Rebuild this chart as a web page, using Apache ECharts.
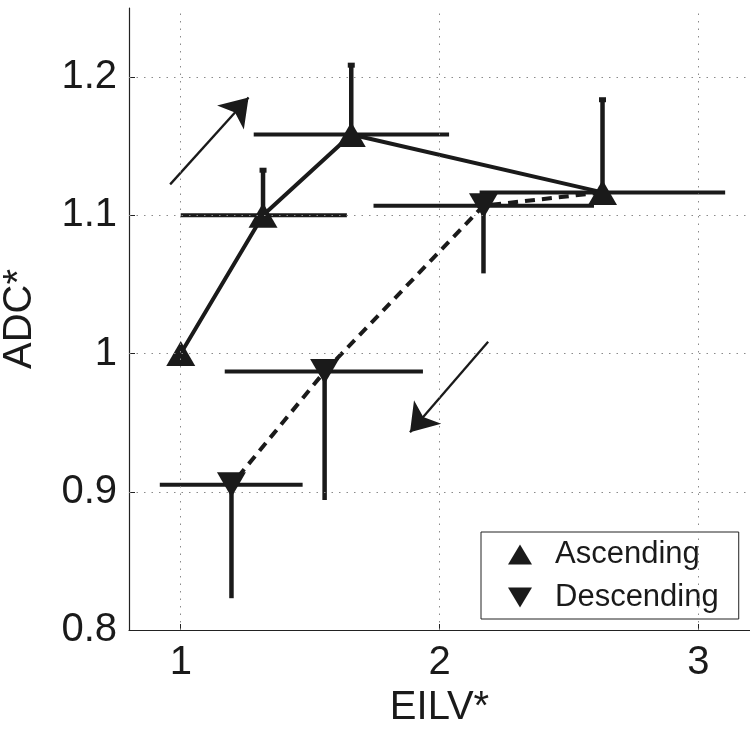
<!DOCTYPE html>
<html>
<head>
<meta charset="utf-8">
<script src="https://cdn.jsdelivr.net/npm/echarts@6/dist/echarts.min.js"></script>
<style>
html,body{margin:0;padding:0;background:#fff;}
#chart{width:750px;height:733px;}
</style>
</head>
<body>
<div id="chart"></div>
<script>
// ---- data ----
const xTicks = [1, 2, 3];
const xTickLabels = ['1', '2', '3'];
const yTicks = [0.8, 0.9, 1.0, 1.1, 1.2];
const yTickLabels = ['0.8', '0.9', '1', '1.1', '1.2'];

const ascEILV   = [1.0, 1.318, 1.659, 2.63];
const ascADC    = [1.0, 1.100, 1.1585, 1.1166];
const ascEILVlo = [null, 1.0, 1.282, 2.155];
const ascEILVhi = [null, 1.642, 2.037, 3.104];
const ascADChi  = [null, 1.133, 1.209, 1.184];

const descEILV   = [2.63, 2.170, 1.556, 1.196];
const descADC    = [1.1166, 1.107, 0.987, 0.905];
const descEILVlo = [null, 1.745, 1.170, 0.919];
const descEILVhi = [null, 2.597, 1.936, 1.471];
const descADClo  = [null, 1.058, 0.894, 0.823];

const arrowUp   = [[0.959, 1.1224], [1.262, 1.1853]];
const arrowDown = [[2.188, 1.0085], [1.886, 0.943]];

const INK = '#1a1a1a';
const FONT = 'Liberation Sans';

function pairs(xs, ys) { return xs.map((x, i) => [x, ys[i]]); }

const ascErr = [];
ascEILV.forEach((x, i) => {
  if (ascEILVlo[i] != null) ascErr.push([x, ascADC[i], ascEILVlo[i], ascEILVhi[i], ascADChi[i], 1]);
});
const descErr = [];
descEILV.forEach((x, i) => {
  if (descEILVlo[i] != null) descErr.push([x, descADC[i], descEILVlo[i], descEILVhi[i], descADClo[i], 0]);
});

function renderErr(params, api) {
  const x = api.value(0), y = api.value(1);
  const xlo = api.value(2), xhi = api.value(3), yv = api.value(4), cap = api.value(5);
  const c = api.coord([x, y]);
  const l = api.coord([xlo, y]);
  const r = api.coord([xhi, y]);
  const v = api.coord([x, yv]);
  const children = [
    { type: 'line', shape: { x1: l[0], y1: l[1], x2: r[0], y2: r[1] }, style: { stroke: INK, lineWidth: 4 } },
    { type: 'line', shape: { x1: c[0], y1: c[1], x2: v[0], y2: v[1] }, style: { stroke: INK, lineWidth: 4.5 } }
  ];
  if (cap) {
    children.push({ type: 'rect', shape: { x: v[0] - 3.5, y: v[1] - 2, width: 7, height: 5 }, style: { fill: INK } });
  }
  return { type: 'group', children: children };
}

const gridLines = [];
xTicks.forEach(v => gridLines.push({ xAxis: v }));
yTicks.filter(v => v > yTicks[0]).forEach(v => gridLines.push({ yAxis: v }));

const chart = echarts.init(document.getElementById('chart'));
chart.setOption({
  animation: false,
  backgroundColor: '#fff',
  textStyle: { fontFamily: FONT, color: INK },
  grid: { left: 129, right: 0, top: 8, bottom: 103, containLabel: false, outerBoundsMode: 'none' },
  legend: {
    orient: 'vertical',
    left: 481, top: 532,
    padding: [7, 20, 6, 27],
    itemWidth: 24, itemHeight: 20, itemGap: 12,
    symbolKeepAspect: false,
    borderColor: '#222', borderWidth: 1, backgroundColor: '#fff',
    textStyle: { fontFamily: FONT, fontSize: 31, color: INK, padding: [0, 0, 0, 18] },
    data: [
      { name: 'Ascending', icon: 'path://M5,0 L10,9 L0,9 Z' },
      { name: 'Descending', icon: 'path://M0,0 L10,0 L5,9 Z' }
    ]
  },
  xAxis: {
    type: 'value', min: 0.8, max: 3.2,
    name: 'EILV*', nameLocation: 'middle', nameGap: 52,
    nameTextStyle: { fontFamily: FONT, fontSize: 40, color: INK },
    axisLine: { show: true, onZero: false, lineStyle: { color: '#222', width: 1.2 } },
    axisTick: { show: true, inside: true, length: 6, customValues: xTicks, lineStyle: { color: '#222', width: 1 } },
    axisLabel: { customValues: xTicks, margin: 13, fontFamily: FONT, fontSize: 40, color: INK,
      formatter: v => xTickLabels[xTicks.findIndex(t => Math.abs(t - v) < 1e-9)] },
    splitLine: { show: false }
  },
  yAxis: {
    type: 'value', min: 0.8, max: 1.25,
    name: 'ADC*', nameLocation: 'middle', nameGap: 89, nameRotate: 90,
    nameTextStyle: { fontFamily: FONT, fontSize: 40, color: INK },
    axisLine: { show: true, onZero: false, lineStyle: { color: '#222', width: 1.2 } },
    axisTick: { show: true, inside: true, length: 6, customValues: yTicks, lineStyle: { color: '#222', width: 1 } },
    axisLabel: { customValues: yTicks, margin: 12, fontFamily: FONT, fontSize: 40, color: INK,
      formatter: v => yTickLabels[yTicks.findIndex(t => Math.abs(t - v) < 1e-9)] },
    splitLine: { show: false }
  },
  series: [
    {
      name: 'gridlines', type: 'line', data: [], z: 1, silent: true,
      markLine: {
        silent: true, symbol: ['none', 'none'], label: { show: false },
        lineStyle: { color: '#8a8a8a', width: 1, type: [1.5, 6] },
        emphasis: { disabled: true },
        data: gridLines
      }
    },
    {
      name: 'ascErr', type: 'custom', renderItem: renderErr, data: ascErr, z: 2, silent: true,
      encode: { x: [0, 2, 3], y: [1, 4] }
    },
    {
      name: 'descErr', type: 'custom', renderItem: renderErr, data: descErr, z: 2, silent: true,
      encode: { x: [0, 2, 3], y: [1, 4] }
    },
    {
      name: 'Ascending', type: 'line', data: pairs(ascEILV, ascADC), z: 3,
      symbol: 'triangle', symbolSize: [29, 25],
      lineStyle: { color: INK, width: 4 }, itemStyle: { color: INK }
    },
    {
      name: 'Descending', type: 'line', z: 3,
      data: pairs(descEILV, descADC).map((p, i) => i === 0 ? { value: p, symbol: 'none' } : { value: p }),
      symbol: 'triangle', symbolSize: [29, 25], symbolRotate: 180,
      lineStyle: { color: INK, width: 4, type: [10, 7] }, itemStyle: { color: INK }
    },
    {
      name: 'arrows', type: 'lines', coordinateSystem: 'cartesian2d', z: 3, silent: true,
      symbol: ['none', 'arrow'], symbolSize: 27,
      lineStyle: { color: INK, width: 2.3, opacity: 1 },
      data: [{ coords: arrowUp }, { coords: arrowDown }]
    }
  ]
});
</script>
</body>
</html>
